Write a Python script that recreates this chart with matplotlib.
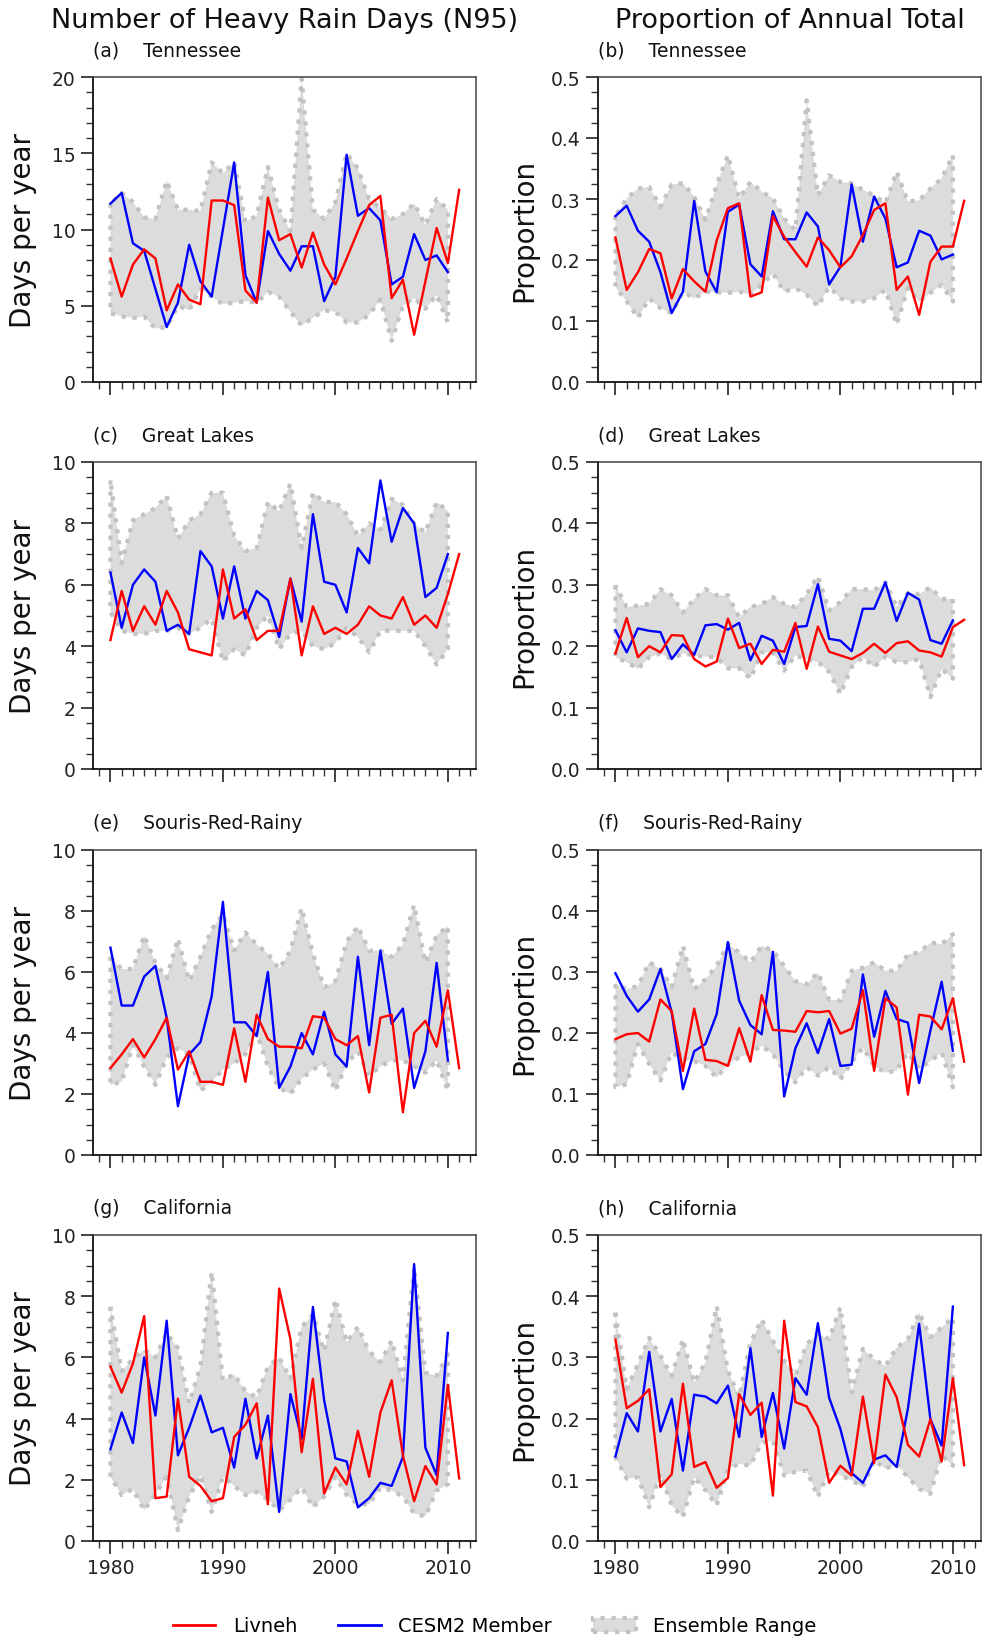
import numpy as np
import matplotlib
matplotlib.use("Agg")
import matplotlib.pyplot as plt
from matplotlib.ticker import MultipleLocator, FormatStrFormatter
from matplotlib.lines import Line2D
from matplotlib.patches import Patch

# ---------------- data ----------------
years_livneh = list(range(1980, 2012))
years_cesm = list(range(1980, 2011))

# (a) Tennessee, N95 days
tn_days_livneh = [8.1, 5.6, 7.7, 8.7, 8.1, 4.7, 6.4, 5.4, 5.1, 11.9, 11.9, 11.6, 6.0, 5.2, 12.1, 9.3,
                  9.7, 7.5, 9.8, 7.7, 6.4, 8.1, 9.9, 11.6, 12.2, 5.5, 6.7, 3.1, 6.6, 10.1, 7.8, 12.6]
tn_days_cesm = [11.7, 12.4, 9.1, 8.6, 6.1, 3.6, 5.2, 9.0, 6.6, 5.6, 10.0, 14.4, 7.0, 5.2, 9.9, 8.4,
                7.3, 8.9, 8.9, 5.3, 6.9, 14.9, 10.9, 11.4, 10.6, 6.4, 6.9, 9.7, 8.0, 8.3, 7.2]
tn_days_hi = [11.7, 12.4, 11.8, 10.8, 10.7, 13.2, 11.3, 11.3, 11.2, 14.4, 13.7, 14.4, 10.5, 10.9, 14.1, 11.3,
              9.9, 19.9, 11.3, 10.7, 11.8, 15.0, 14.0, 12.0, 11.4, 10.7, 11.0, 11.7, 10.3, 12.0, 11.3]
tn_days_lo = [4.5, 4.3, 4.2, 4.3, 3.5, 3.6, 5.0, 4.7, 6.1, 5.6, 5.1, 5.2, 5.3, 5.2, 5.9, 5.6,
              4.6, 3.7, 4.2, 4.7, 4.6, 3.9, 3.9, 4.4, 5.4, 2.7, 5.0, 5.5, 4.8, 5.7, 3.9]

# (b) Tennessee, proportion
tn_prop_livneh = [0.237, 0.151, 0.180, 0.218, 0.211, 0.137, 0.185, 0.165, 0.148, 0.232, 0.285, 0.293,
                  0.140, 0.147, 0.272, 0.238, 0.213, 0.189, 0.237, 0.216, 0.188, 0.206, 0.241, 0.282,
                  0.293, 0.151, 0.173, 0.110, 0.197, 0.222, 0.222, 0.297]
tn_prop_cesm = [0.272, 0.289, 0.248, 0.230, 0.180, 0.113, 0.148, 0.297, 0.181, 0.147, 0.279, 0.291,
                0.193, 0.173, 0.280, 0.234, 0.234, 0.278, 0.255, 0.160, 0.189, 0.324, 0.230, 0.304,
                0.268, 0.188, 0.196, 0.248, 0.240, 0.201, 0.209]
tn_prop_hi = [0.272, 0.301, 0.317, 0.320, 0.287, 0.324, 0.326, 0.304, 0.266, 0.323, 0.372, 0.301,
              0.328, 0.312, 0.301, 0.268, 0.249, 0.462, 0.306, 0.339, 0.328, 0.326, 0.315, 0.306,
              0.293, 0.345, 0.296, 0.298, 0.317, 0.334, 0.372]
tn_prop_lo = [0.156, 0.132, 0.105, 0.137, 0.121, 0.113, 0.148, 0.137, 0.148, 0.147, 0.146, 0.148,
              0.143, 0.159, 0.178, 0.148, 0.154, 0.143, 0.124, 0.156, 0.137, 0.132, 0.132, 0.137,
              0.151, 0.094, 0.154, 0.132, 0.146, 0.159, 0.132]

# (c) Great Lakes, N95 days
gl_days_livneh = [4.2, 5.8, 4.5, 5.3, 4.7, 5.8, 5.1, 3.9, 3.8, 3.7, 6.5, 4.9, 5.2, 4.2, 4.5, 4.5,
                  6.2, 3.7, 5.3, 4.4, 4.6, 4.4, 4.7, 5.3, 5.0, 4.9, 5.6, 4.7, 5.0, 4.6, 5.7, 7.0]
gl_days_cesm = [6.4, 4.6, 6.0, 6.5, 6.1, 4.5, 4.7, 4.4, 7.1, 6.6, 4.9, 6.6, 4.9, 5.8, 5.5, 4.3,
                6.2, 4.8, 8.3, 6.1, 6.0, 5.1, 7.2, 6.7, 9.4, 7.4, 8.5, 8.0, 5.6, 5.9, 7.0]
gl_days_hi = [9.4, 6.7, 8.1, 8.3, 8.5, 8.9, 7.5, 8.1, 8.3, 9.0, 9.0, 7.6, 7.1, 7.2, 8.7, 8.4,
              9.3, 7.2, 9.0, 8.7, 8.7, 8.3, 7.6, 8.0, 7.8, 8.8, 8.6, 8.0, 7.7, 8.7, 8.4]
gl_days_lo = [5.1, 4.5, 4.4, 4.4, 4.5, 4.5, 4.6, 4.4, 4.6, 4.9, 3.5, 3.9, 3.7, 4.6, 5.0, 3.9,
              4.4, 4.5, 4.0, 3.9, 4.1, 4.6, 4.3, 3.8, 4.5, 4.5, 4.5, 4.5, 4.0, 3.4, 3.9]

# (d) Great Lakes, proportion
gl_prop_livneh = [0.188, 0.246, 0.182, 0.200, 0.190, 0.218, 0.217, 0.179, 0.167, 0.175, 0.245, 0.197,
                  0.204, 0.171, 0.194, 0.191, 0.238, 0.163, 0.232, 0.191, 0.185, 0.179, 0.189, 0.204,
                  0.189, 0.205, 0.208, 0.193, 0.190, 0.183, 0.231, 0.243]
gl_prop_cesm = [0.226, 0.190, 0.229, 0.225, 0.223, 0.179, 0.203, 0.186, 0.234, 0.236, 0.227, 0.238,
                0.177, 0.217, 0.209, 0.171, 0.231, 0.233, 0.301, 0.212, 0.209, 0.192, 0.261, 0.261,
                0.304, 0.241, 0.287, 0.276, 0.210, 0.204, 0.242]
gl_prop_hi = [0.299, 0.264, 0.266, 0.269, 0.293, 0.283, 0.255, 0.277, 0.293, 0.283, 0.283, 0.247,
              0.264, 0.269, 0.280, 0.269, 0.264, 0.285, 0.314, 0.258, 0.272, 0.293, 0.293, 0.291,
              0.304, 0.264, 0.287, 0.285, 0.296, 0.277, 0.277]
gl_prop_lo = [0.182, 0.174, 0.163, 0.182, 0.188, 0.179, 0.188, 0.185, 0.183, 0.182, 0.164, 0.164,
              0.147, 0.190, 0.189, 0.160, 0.185, 0.179, 0.174, 0.158, 0.122, 0.166, 0.182, 0.166,
              0.183, 0.174, 0.174, 0.179, 0.117, 0.163, 0.147]

# (e) Souris-Red-Rainy, N95 days
srr_days_livneh = [2.85, 3.3, 3.8, 3.2, 3.8, 4.5, 2.8, 3.4, 2.4, 2.4, 2.3, 4.15, 2.4, 4.6, 3.8, 3.55,
                   3.55, 3.5, 4.55, 4.5, 3.8, 3.6, 3.9, 2.05, 4.5, 4.6, 1.4, 4.0, 4.4, 3.55, 5.4, 2.85]
srr_days_cesm = [6.8, 4.9, 4.9, 5.85, 6.2, 4.5, 1.6, 3.3, 3.7, 5.2, 8.3, 4.35, 4.35, 3.9, 6.0, 2.2,
                 2.9, 4.0, 3.3, 4.7, 3.3, 2.9, 6.5, 3.6, 6.7, 4.3, 4.8, 2.2, 3.4, 6.3, 3.1]
srr_days_hi = [6.5, 6.1, 6.1, 7.2, 6.3, 5.8, 7.1, 5.7, 6.5, 7.4, 7.9, 6.7, 7.3, 6.9, 6.6, 6.1,
               6.7, 8.1, 6.6, 5.5, 5.7, 7.0, 7.5, 6.7, 6.7, 6.5, 6.9, 8.2, 6.3, 7.2, 7.5]
srr_days_lo = [2.3, 2.4, 3.6, 2.9, 2.3, 3.2, 3.5, 3.3, 2.1, 2.4, 2.8, 3.0, 3.3, 4.0, 2.9, 2.2,
               2.0, 2.5, 2.8, 3.0, 2.1, 3.0, 3.4, 2.6, 2.9, 3.1, 3.1, 2.9, 2.7, 3.1, 2.1]

# (f) Souris-Red-Rainy, proportion
srr_prop_livneh = [0.190, 0.198, 0.200, 0.186, 0.255, 0.236, 0.138, 0.240, 0.156, 0.154, 0.146, 0.208,
                   0.153, 0.262, 0.205, 0.204, 0.202, 0.236, 0.234, 0.236, 0.199, 0.207, 0.270, 0.138,
                   0.257, 0.242, 0.099, 0.230, 0.227, 0.206, 0.257, 0.153]
srr_prop_cesm = [0.298, 0.261, 0.235, 0.255, 0.305, 0.234, 0.108, 0.170, 0.182, 0.231, 0.349, 0.253,
                 0.213, 0.198, 0.333, 0.096, 0.175, 0.216, 0.167, 0.223, 0.146, 0.148, 0.296, 0.194,
                 0.269, 0.223, 0.217, 0.118, 0.204, 0.284, 0.171]
srr_prop_hi = [0.280, 0.272, 0.277, 0.316, 0.305, 0.275, 0.343, 0.272, 0.288, 0.310, 0.346, 0.332,
               0.316, 0.343, 0.335, 0.310, 0.285, 0.280, 0.299, 0.255, 0.253, 0.302, 0.307, 0.316,
               0.302, 0.302, 0.329, 0.332, 0.348, 0.346, 0.362]
srr_prop_lo = [0.111, 0.116, 0.182, 0.149, 0.122, 0.168, 0.157, 0.154, 0.146, 0.127, 0.149, 0.160,
               0.168, 0.179, 0.165, 0.138, 0.119, 0.144, 0.130, 0.144, 0.124, 0.152, 0.176, 0.146,
               0.135, 0.138, 0.168, 0.141, 0.154, 0.168, 0.111]

# (g) California, N95 days
ca_days_livneh = [5.7, 4.85, 5.8, 7.35, 1.4, 1.45, 4.65, 2.1, 1.8, 1.3, 1.4, 3.4, 3.8, 4.5, 1.2, 8.25,
                  6.6, 2.9, 5.3, 1.55, 2.4, 1.85, 3.6, 2.1, 4.2, 5.25, 2.8, 1.3, 2.45, 1.85, 5.1, 2.05]
ca_days_cesm = [3.0, 4.2, 3.2, 6.0, 4.1, 7.2, 2.8, 3.7, 4.75, 3.55, 3.7, 2.4, 4.65, 2.7, 4.1, 0.95,
                4.8, 3.35, 7.65, 4.6, 2.7, 2.6, 1.1, 1.4, 1.9, 1.8, 2.75, 9.05, 3.05, 2.15, 6.8]
ca_days_hi = [7.65, 5.55, 5.95, 6.25, 6.0, 6.8, 6.3, 4.5, 5.7, 8.8, 5.25, 5.45, 4.9, 4.7, 5.7, 6.0,
              5.3, 7.0, 7.4, 6.2, 7.9, 6.5, 7.0, 6.2, 5.85, 6.55, 5.25, 8.95, 5.5, 5.4, 6.1]
ca_days_lo = [2.1, 1.5, 1.7, 1.0, 1.55, 2.1, 0.35, 1.45, 2.15, 0.95, 2.1, 1.8, 1.5, 1.6, 1.35, 1.0,
              1.35, 1.75, 1.1, 1.45, 2.1, 1.5, 1.2, 1.2, 1.75, 1.65, 1.45, 0.9, 0.8, 1.65, 1.85]

# (h) California, proportion
ca_prop_livneh = [0.329, 0.217, 0.229, 0.248, 0.088, 0.109, 0.257, 0.121, 0.129, 0.087, 0.103, 0.240,
                  0.206, 0.226, 0.074, 0.360, 0.227, 0.220, 0.186, 0.095, 0.123, 0.107, 0.236, 0.127,
                  0.272, 0.235, 0.157, 0.138, 0.199, 0.130, 0.266, 0.124]
ca_prop_cesm = [0.138, 0.209, 0.179, 0.309, 0.179, 0.232, 0.115, 0.239, 0.236, 0.225, 0.254, 0.170,
                0.315, 0.170, 0.242, 0.151, 0.266, 0.239, 0.356, 0.234, 0.183, 0.111, 0.095, 0.133,
                0.140, 0.121, 0.216, 0.355, 0.199, 0.156, 0.383]
ca_prop_hi = [0.373, 0.248, 0.289, 0.332, 0.303, 0.270, 0.330, 0.259, 0.292, 0.384, 0.278, 0.235,
              0.324, 0.362, 0.327, 0.295, 0.270, 0.322, 0.338, 0.330, 0.382, 0.243, 0.314, 0.297,
              0.286, 0.316, 0.330, 0.373, 0.333, 0.349, 0.365]
ca_prop_lo = [0.137, 0.102, 0.104, 0.055, 0.110, 0.058, 0.039, 0.104, 0.083, 0.058, 0.118, 0.126,
              0.123, 0.161, 0.164, 0.107, 0.113, 0.115, 0.072, 0.115, 0.107, 0.099, 0.088, 0.132,
              0.118, 0.126, 0.104, 0.085, 0.077, 0.140, 0.123]

regions = ["Tennessee", "Great Lakes", "Souris-Red-Rainy", "California"]
letters = ["a", "b", "c", "d", "e", "f", "g", "h"]
col_titles = ["Number of Heavy Rain Days (N95)", "Proportion of Annual Total"]
y_labels = ["Days per year", "Proportion"]

days_data = [
    (tn_days_livneh, tn_days_cesm, tn_days_lo, tn_days_hi),
    (gl_days_livneh, gl_days_cesm, gl_days_lo, gl_days_hi),
    (srr_days_livneh, srr_days_cesm, srr_days_lo, srr_days_hi),
    (ca_days_livneh, ca_days_cesm, ca_days_lo, ca_days_hi),
]
prop_data = [
    (tn_prop_livneh, tn_prop_cesm, tn_prop_lo, tn_prop_hi),
    (gl_prop_livneh, gl_prop_cesm, gl_prop_lo, gl_prop_hi),
    (srr_prop_livneh, srr_prop_cesm, srr_prop_lo, srr_prop_hi),
    (ca_prop_livneh, ca_prop_cesm, ca_prop_lo, ca_prop_hi),
]

# ---------------- layout ----------------
W, H = 983, 1640
fig = plt.figure(figsize=(W / 100, H / 100), dpi=100)
col_x = [(93, 476), (598, 981)]
row_y = [(78, 383), (463, 770), (851, 1156), (1236, 1542)]

FILL = "#dcdcdc"
EDGE = "#c2c2c2"

for r in range(4):
    for c in range(2):
        x0, x1 = col_x[c]
        y0, y1 = row_y[r]
        ax = fig.add_axes([x0 / W, 1 - y1 / H, (x1 - x0) / W, (y1 - y0) / H])
        liv, ces, lo, hi = (days_data if c == 0 else prop_data)[r]

        ax.fill_between(years_cesm, lo, hi, facecolor=FILL, edgecolor=EDGE,
                        linestyle=":", linewidth=3, zorder=1)
        ax.plot(years_cesm, ces, color="#0000ff", lw=1.7, zorder=3)
        ax.plot(years_livneh, liv, color="#ff0000", lw=1.7, zorder=4)

        ax.set_xlim(1978.45, 2012.5)
        ax.xaxis.set_major_locator(MultipleLocator(10))
        ax.xaxis.set_minor_locator(MultipleLocator(1))
        if c == 0:
            if r == 0:
                ax.set_ylim(0, 20)
                ax.yaxis.set_major_locator(MultipleLocator(5))
                ax.yaxis.set_minor_locator(MultipleLocator(1))
            else:
                ax.set_ylim(0, 10)
                ax.yaxis.set_major_locator(MultipleLocator(2))
                ax.yaxis.set_minor_locator(MultipleLocator(0.5))
            ax.yaxis.set_major_formatter(FormatStrFormatter("%d"))
        else:
            ax.set_ylim(0, 0.5)
            ax.yaxis.set_major_locator(MultipleLocator(0.1))
            ax.yaxis.set_minor_locator(MultipleLocator(0.025))
            ax.yaxis.set_major_formatter(FormatStrFormatter("%.1f"))

        ax.tick_params(which="major", length=9, width=1.2, labelsize=13.5,
                       direction="out", colors="#222222")
        ax.tick_params(which="minor", length=5, width=1.0, direction="out",
                       colors="#333333")
        if r < 3:
            ax.tick_params(axis="x", labelbottom=False)
        for side in ["left", "bottom"]:
            ax.spines[side].set_linewidth(1.3)
            ax.spines[side].set_color("#111111")
        for side in ["top", "right"]:
            ax.spines[side].set_linewidth(1.1)
            ax.spines[side].set_color("#444444")

        ax.set_ylabel(y_labels[c], fontsize=20, color="#111111")
        ax.yaxis.set_label_coords(-(56 if c == 0 else 60) / (x1 - x0), 0.5)

        ax.annotate("(%s)    %s" % (letters[r * 2 + c], regions[r]),
                    xy=(0, 1), xycoords="axes fraction",
                    xytext=(0, 19.5), textcoords="offset points",
                    ha="left", va="center", fontsize=13.5, color="#111111")

        if r == 0:
            fig.text(((x0 + x1) / 2) / W, 1 - 21 / H, col_titles[c],
                     ha="center", va="center", fontsize=19.5, color="#111111")

handles = [
    Line2D([], [], color="#ff0000", lw=2),
    Line2D([], [], color="#0000ff", lw=2),
    Patch(facecolor=FILL, edgecolor=EDGE, linestyle=":", linewidth=3),
]
fig.legend(handles, ["Livneh", "CESM2 Member", "Ensemble Range"],
           loc="center", bbox_to_anchor=(0.503, 1 - 1627 / H), ncol=3,
           frameon=False, fontsize=14, handlelength=2.2, handletextpad=0.9,
           columnspacing=2.1)

fig.savefig("out.png", dpi=100)
